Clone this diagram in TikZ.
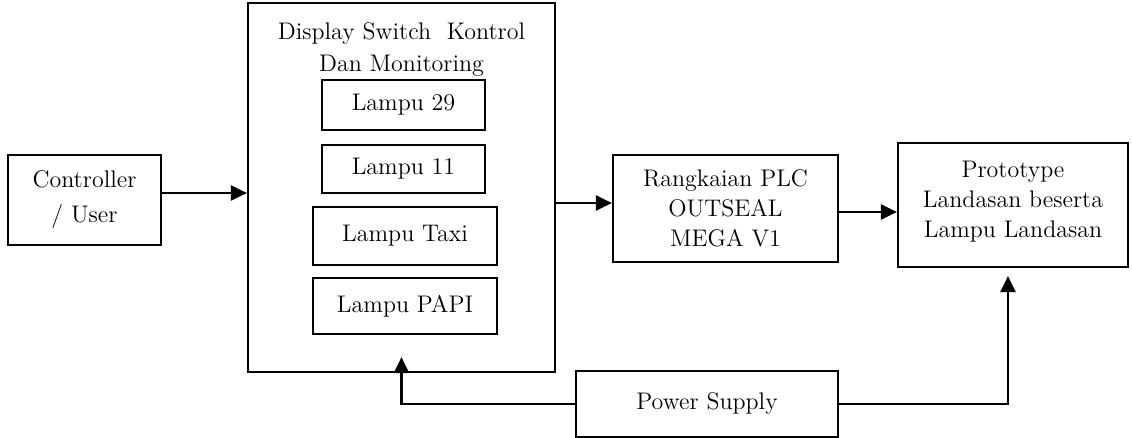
\documentclass[tikz,border=0pt]{standalone}
\usepackage{tikz}
\usetikzlibrary{arrows.meta, positioning, calc}

\begin{document}
\begin{tikzpicture}[
  x=0.5pt, y=-0.5pt,
  box/.style={draw, line width=1.1pt, align=center, inner sep=0pt, font=\fontsize{12}{15}\selectfont},
  arr/.style={-{Triangle[length=8pt, width=7.5pt]}, line width=1.1pt}
]

  \useasboundingbox (0,0) rectangle (1132,438);

  % Controller
  \node[box, minimum width=76.5pt, minimum height=45pt, font=\fontsize{12}{17.5}\selectfont] (ctrl) at (84.5,200) {Controller\\/ User};

  % Display switch with lamps
  \node[box, minimum width=153.5pt, minimum height=184.5pt] (disp) at (401.5,187.5) {};
  \node[font=\fontsize{12}{16}\selectfont, align=center, inner sep=0pt] (title) at (401.5,50) {Display Switch\ \ Kontrol\\Dan Monitoring};
  \node[box, minimum width=81.5pt, minimum height=25pt] (l29) at (403.5,105) {Lampu 29};
  \node[box, minimum width=81.5pt, minimum height=24pt] (l11) at (403.5,169) {Lampu 11};
  \node[box, minimum width=92pt, minimum height=29pt] (ltaxi) at (405,236) {Lampu Taxi};
  \node[box, minimum width=92pt, minimum height=28pt] (lpapi) at (405,306) {Lampu PAPI};

  % PLC
  \node[box, minimum width=112.5pt, minimum height=53.5pt] (plc) at (725.5,208.5) {Rangkaian PLC\\OUTSEAL\\MEGA V1};

  % Prototype
  \node[box, minimum width=115pt, minimum height=62pt, text depth=6pt] (proto) at (1013,205) {Prototype\\Landasan beserta\\Lampu Landasan};

  % Power supply
  \node[box, minimum width=131pt, minimum height=33pt] (psu) at (707,404) {Power Supply};

  % Connections
  \draw[arr] (ctrl.east |- 0,193) -- (disp.west |- 0,193);
  \draw[arr] (disp.east |- 0,203) -- (plc.west |- 0,203);
  \draw[arr] (plc.east |- 0,212) -- (proto.west |- 0,212);
  \draw[arr] (psu.west) -| ([yshift=8pt]disp.south);
  \draw[arr] (psu.east) -| ([xshift=-2.5pt, yshift=-4pt]proto.south);

\end{tikzpicture}
\end{document}
